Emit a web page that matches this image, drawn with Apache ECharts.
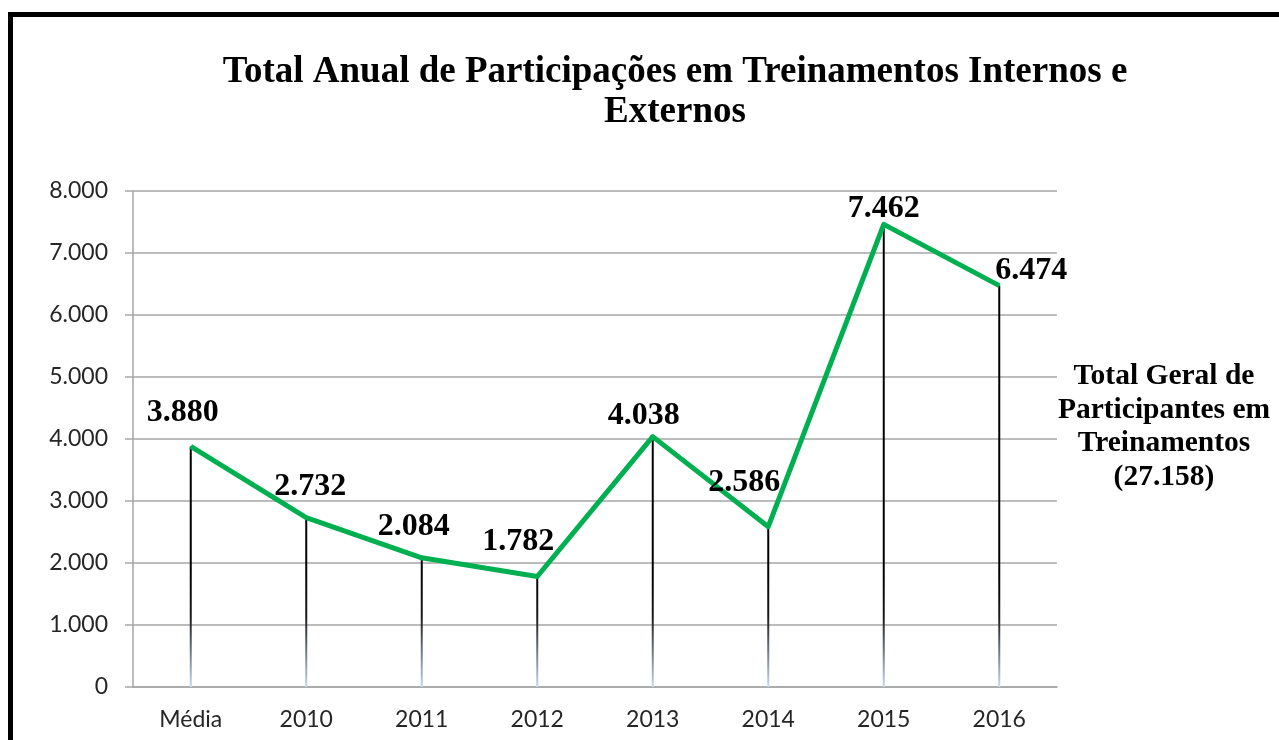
<!DOCTYPE html>
<html>
<head>
<meta charset="utf-8">
<script src="https://cdn.jsdelivr.net/npm/echarts@6/dist/echarts.min.js"></script>
<style>
html,body{margin:0;padding:0;background:#fff;}
#chart{width:1279px;height:740px;}
</style>
</head>
<body>
<div id="chart"></div>
<script>
const categories = ['Média', '2010', '2011', '2012', '2013', '2014', '2015', '2016'];
const values = [3880, 2732, 2084, 1782, 4038, 2586, 7462, 6474];
const yTicks = [0, 1000, 2000, 3000, 4000, 5000, 6000, 7000, 8000];
const titleLine1 = 'Total Anual de Participações em Treinamentos Internos e';
const titleLine2 = 'Externos';
const sideText = 'Total Geral de\nParticipantes em\nTreinamentos\n(27.158)';

// label offsets (style only)
const labelOffsets = [[-8,-34],[4,-31],[-8,-31],[-19,-35],[-9,-21],[-24,-44],[0,-16],[32,-15]];

function fmt(v){
  const s = String(Math.round(v));
  return s.replace(/\B(?=(\d{3})+(?!\d))/g, '.');
}

const chart = echarts.init(document.getElementById('chart'));
const lineData = values.map((v,i)=>({
  value: v,
  label: {offset: labelOffsets[i]}
}));

chart.setOption({
  animation: false,
  backgroundColor: '#fff',
  title: {
    text: titleLine1 + '\n' + titleLine2,
    left: 670,
    top: 47,
    textAlign: 'center',
    textStyle: {
      fontFamily: 'Liberation Serif',
      fontWeight: 'bold',
      fontSize: 37,
      lineHeight: 40,
      color: '#000'
    }
  },
  graphic: [
    {
      type: 'rect',
      shape: {x: 10.5, y: 14.5, width: 1400, height: 900},
      style: {fill: null, stroke: '#000', lineWidth: 5},
      silent: true, z: 100
    },
    {
      type: 'text',
      x: 1164, y: 427,
      style: {
        text: sideText,
        fontFamily: 'Liberation Serif',
        fontWeight: 'bold',
        fontSize: 29.5,
        lineHeight: 33.5,
        fill: '#000',
        align: 'center',
        verticalAlign: 'middle'
      }
    }
  ],
  grid: {left: 133, right: 222, top: 191, bottom: 53},
  xAxis: {
    type: 'category',
    data: categories,
    boundaryGap: true,
    axisLine: {lineStyle: {color: '#a6a6a6', width: 1.5}},
    axisTick: {show: false},
    axisLabel: {
      fontFamily: 'Lato',
      fontSize: 23,
      color: '#262626',
      margin: 21
    }
  },
  yAxis: {
    type: 'value',
    min: yTicks[0],
    max: yTicks[yTicks.length-1],
    interval: 1000,
    axisLine: {show: true, lineStyle: {color: '#a6a6a6', width: 1.5}},
    axisTick: {show: true, length: 8, lineStyle: {color: '#a6a6a6', width: 1.5}},
    splitLine: {lineStyle: {color: '#a6a6a6', width: 1.5}},
    axisLabel: {
      fontFamily: 'Lato',
      fontSize: 23,
      color: '#262626',
      margin: 25,
      formatter: v => fmt(v)
    }
  },
  series: [
    {
      type: 'bar',
      data: values,
      barWidth: 2,
      silent: true,
      z: 1,
      itemStyle: {
        color: {
          type: 'linear', global: true,
          x: 0, y: 570, x2: 0, y2: 687,
          colorStops: [
            {offset: 0, color: '#000000'},
            {offset: 0.4, color: '#1a1a1a'},
            {offset: 1, color: '#c6d9f1'}
          ]
        }
      }
    },
    {
      type: 'line',
      data: lineData,
      smooth: false,
      symbol: 'circle',
      symbolSize: 1,
      z: 3,
      lineStyle: {color: '#00b050', width: 5, join: 'round'},
      itemStyle: {color: '#00b050'},
      label: {
        show: true,
        position: 'inside',
        formatter: p => fmt(p.value),
        fontFamily: 'Liberation Serif',
        fontWeight: 'bold',
        fontSize: 32,
        color: '#000'
      }
    }
  ]
});
</script>
</body>
</html>
